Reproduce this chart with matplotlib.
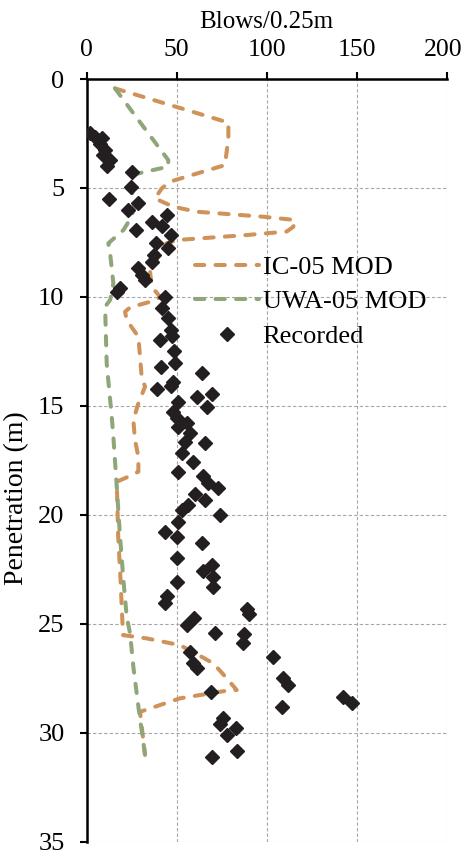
import matplotlib
import matplotlib.pyplot as plt
from matplotlib.transforms import ScaledTranslation

matplotlib.use("Agg")

plt.rcParams["font.family"] = ["Liberation Serif", "DejaVu Serif"]
plt.rcParams["font.size"] = 19

# Recorded blow counts (blows / 0.25 m) vs penetration (m)
rec_blows = [2, 4.6, 8.3, 7.4, 10, 9.2, 13, 11, 25, 24.4, 12.6, 28.3, 22.8, 44.4,
             36.1, 42, 27.6, 46.8, 38.5, 45.3, 37.4, 36.1, 28.7, 30.5, 32.4, 18.5,
             16.7, 43.5, 41.7, 45.3, 46.7, 47.2, 40.7, 48.5, 49, 41.3, 63.9, 48.1,
             46.7, 39.2, 69.8, 61.1, 50.9, 66.7, 47.8, 50, 55.9, 50.9, 57.2, 54.6,
             65.7, 52.8, 59.3, 50.9, 64.4, 67.6, 73.1, 60.2, 65.7, 56.4, 52.8, 74.1,
             50.9, 43.5, 50, 63.9, 50.4, 69.4, 64.8, 70.4, 50.4, 70, 44.8, 43.5,
             88.9, 90.3, 59.8, 55.6, 71.3, 87.4, 87, 57.4, 103.7, 59.3, 61.5, 109.2,
             112, 68.9, 142.6, 147.2, 108.7, 75.9, 74.1, 82.8, 77.8, 83.3, 69.4]
rec_depth = [2.5, 2.65, 2.7, 3.0, 3.25, 3.5, 3.7, 4.0, 4.25, 4.97, 5.5, 5.7, 6.0, 6.24,
             6.55, 6.75, 6.95, 7.18, 7.52, 7.74, 8.08, 8.38, 8.69, 9.0, 9.22, 9.6,
             9.76, 9.99, 10.52, 10.98, 11.5, 11.8, 11.98, 12.5, 13.05, 13.23, 13.5, 13.9,
             14.09, 14.24, 14.46, 14.58, 14.8, 15.04, 15.3, 15.57, 15.77, 15.95, 16.26, 16.65,
             16.72, 17.18, 17.56, 18.02, 18.22, 18.55, 18.78, 19.05, 19.32, 19.55, 19.78, 20.0,
             20.32, 20.78, 21.03, 21.31, 22.0, 22.3, 22.6, 22.84, 23.07, 23.3, 23.73, 24.06,
             24.34, 24.55, 24.72, 25.06, 25.4, 25.47, 25.87, 26.28, 26.54, 26.82, 27.05, 27.5,
             27.8, 28.12, 28.35, 28.62, 28.83, 29.34, 29.6, 29.8, 30.1, 30.82, 31.1]

# IC-05 MOD prediction
ic_blows = [15.7, 78.7, 78.7, 76.8, 46.3, 41.7, 37.9, 48.1, 61.1, 98.1, 115.7, 114.8,
            111.1, 88.9, 50, 44.4, 39.8, 38.9, 35.2, 36.1, 40.7, 38.9, 24.1, 21.3, 22.2,
            28.7, 29.6, 30.5, 32.4, 28.7, 25.9, 26.8, 28.7, 28.7, 23.1, 16.7, 17.5, 18.8,
            19.6, 20.2, 33.3, 51.8, 62, 70.4, 77.8, 83.3, 77.8, 51.8, 29.6, 32.4]
ic_depth = [0.43, 2.0, 2.72, 3.95, 4.71, 5.02, 5.48, 5.86, 6.09, 6.32, 6.47, 6.78,
            7.0, 7.16, 7.39, 7.54, 7.85, 8.31, 8.84, 9.53, 9.99, 10.14, 10.48, 10.68, 11.06,
            11.83, 12.74, 13.66, 14.12, 14.88, 15.65, 16.57, 17.33, 18.02, 18.25, 18.48, 21.0, 23.0,
            24.5, 25.52, 25.67, 25.98, 26.43, 26.82, 27.5, 28.04, 28.07, 28.42, 29.04, 31.02]

# UWA-05 MOD prediction
uwa_blows = [15.7, 25.9, 37, 45.3, 45.3, 28.7, 23.1, 25, 26.7, 25, 20.4, 12, 13, 14.8,
             13, 10.2, 11.1, 13.9, 14.8, 16.7, 18.5, 20.4, 22.2, 24.1, 25.9, 28.7, 32.4]
uwa_depth = [0.43, 1.57, 2.8, 3.72, 4.02, 4.33, 4.56, 5.1, 5.7, 6.32, 6.93, 7.54, 8.0, 9.38,
             10.14, 10.45, 13.05, 15.5, 16.42, 18.72, 21.0, 23.0, 24.67, 25.44, 26.97, 28.8, 31.02]

x_ticks = [0, 50, 100, 150, 200]
y_ticks = [0, 5, 10, 15, 20, 25, 30, 35]

fig = plt.figure(figsize=(4.64, 8.56), dpi=100)
ax = fig.add_axes([0.1869, 0.0167, 0.7758, 0.891])

dash = (0, (2.3, 2.8))
ax.plot(ic_blows, ic_depth, color="#CF9259", lw=2.9, linestyle=dash,
        dash_capstyle="round", label="IC-05 MOD", zorder=3)
ax.plot(uwa_blows, uwa_depth, color="#8FA679", lw=2.9, linestyle=dash,
        dash_capstyle="round", label="UWA-05 MOD", zorder=4)
ax.plot(rec_blows, rec_depth, linestyle="none", marker="D", ms=7, color="#231F20",
        label="Recorded", zorder=5)

ax.set_xlim(0, 200)
ax.set_ylim(35, 0)
ax.set_xticks(x_ticks)
ax.set_yticks(y_ticks)
ax.xaxis.tick_top()
ax.xaxis.set_label_position("top")
ax.set_xlabel("Blows/0.25m", fontsize=18, labelpad=8)
ax.set_ylabel("Penetration (m)", fontsize=20)
ax.yaxis.set_label_coords(-0.16, 0.45)
ax.tick_params(axis="x", direction="out", length=5, width=1.5, pad=8, labelsize=18.5)
ax.tick_params(axis="y", direction="out", length=5, width=1.5, pad=11)

# keep the last top label inside the canvas
fig.canvas.draw()
last = ax.get_xticklabels()[-1]
last.set_transform(last.get_transform() + ScaledTranslation(-4 / 100, 0, fig.dpi_scale_trans))

ax.spines["right"].set_visible(False)
ax.spines["bottom"].set_visible(False)
ax.spines["top"].set_linewidth(1.8)
ax.spines["left"].set_linewidth(1.8)
ax.grid(True, color="#A6A6A6", linestyle=(0, (3, 2)), linewidth=0.8, zorder=0)
ax.set_axisbelow(True)

ax.legend(loc="upper left", bbox_to_anchor=(0.265, 0.786), frameon=False, borderpad=0,
          handlelength=2.4, handletextpad=0.15, labelspacing=0.42, numpoints=1)

fig.savefig("out.png", dpi=100)
